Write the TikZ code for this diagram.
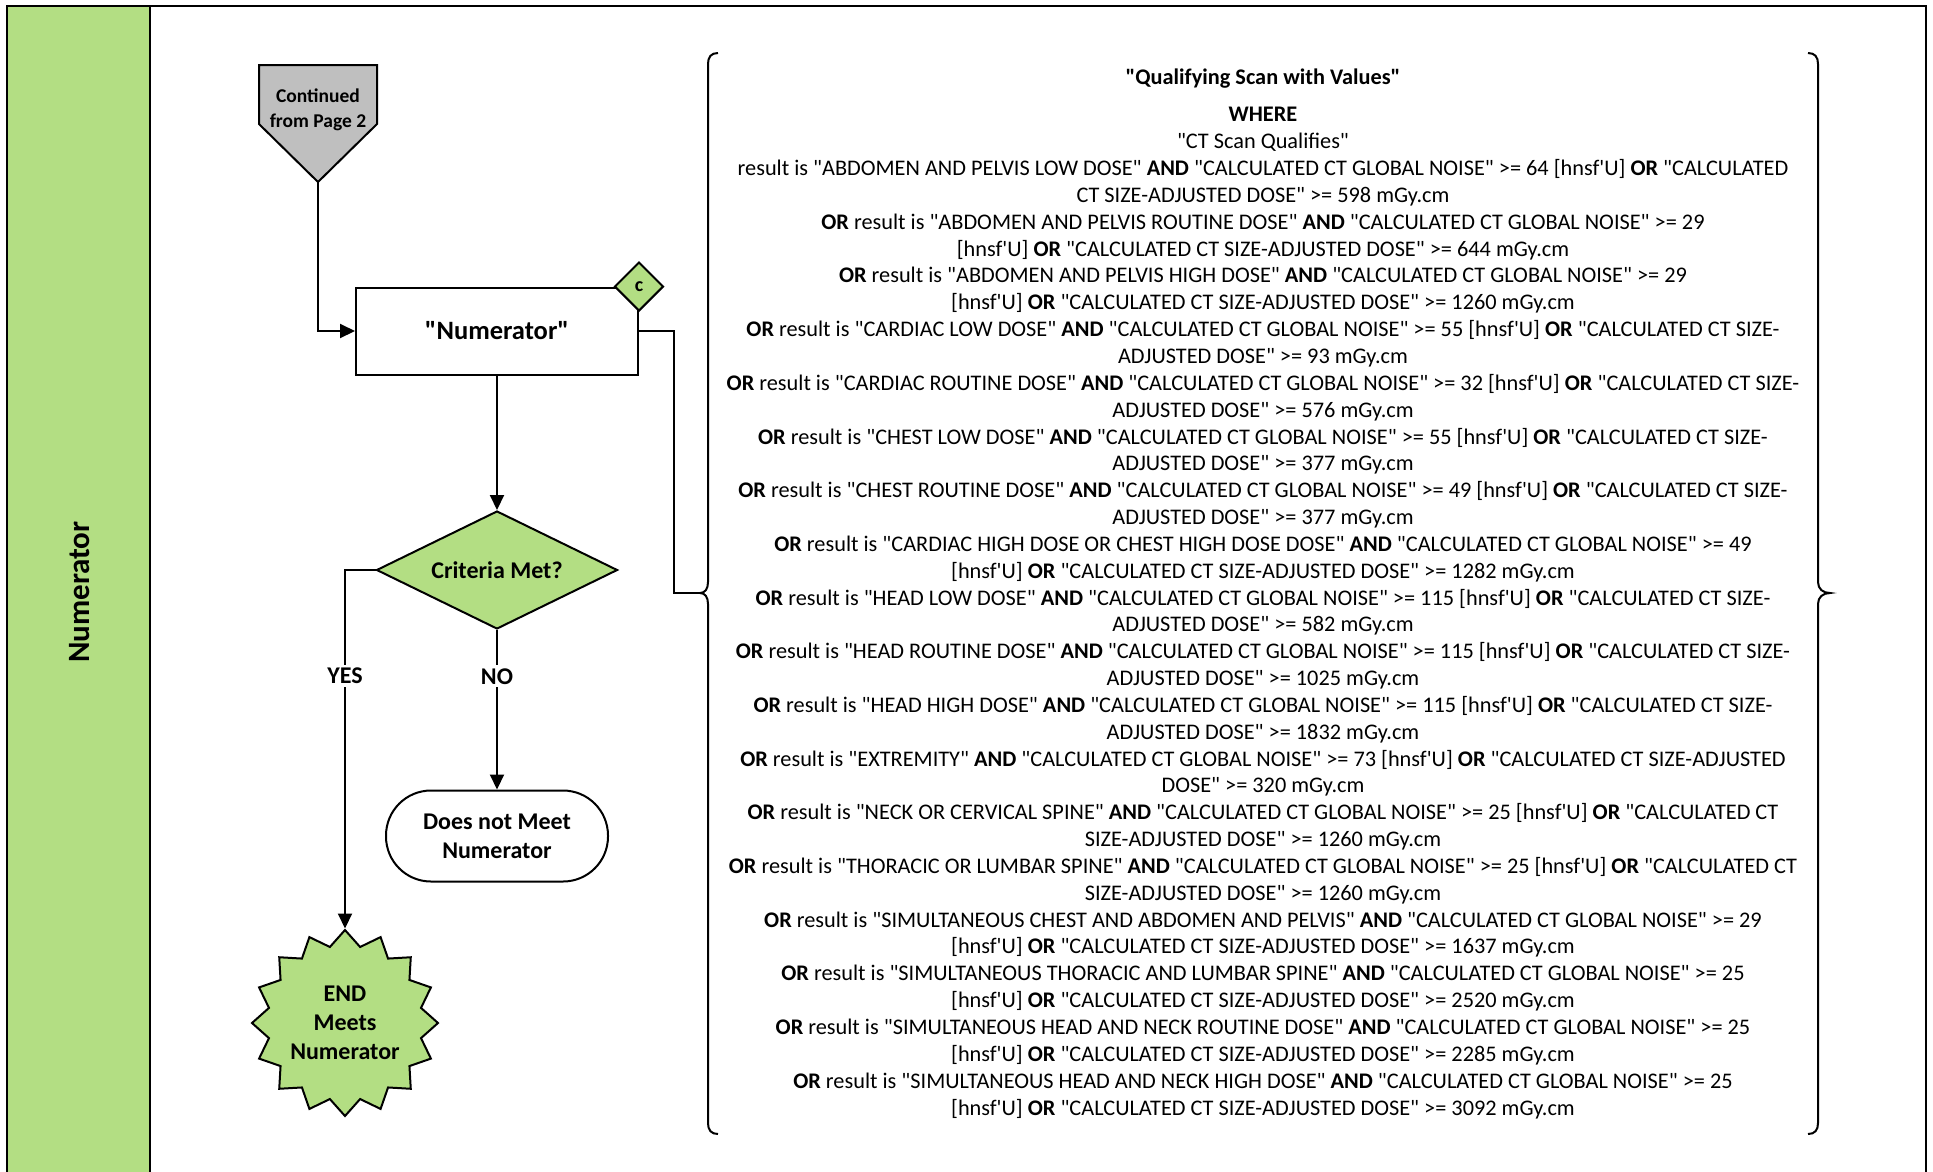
\documentclass[tikz,border=0pt]{standalone}
\usepackage{fontspec}
\setmainfont{Carlito}[Ligatures=TeXOff]
\usetikzlibrary{arrows.meta,shapes.geometric,positioning}
\definecolor{lanegreen}{RGB}{179,222,131}
\definecolor{pagegrey}{RGB}{191,191,191}
\newcommand{\kwor}{\textbf{OR}}
\newcommand{\kwand}{\textbf{AND}}
\newcommand{\hu}{[hnsf\textquotesingle U]}

\begin{document}
\begin{tikzpicture}[x=1pt, y=-1pt, line width=2pt,
	every node/.style={font=\bfseries\fontsize{24}{29}\selectfont, align=center},
	proc/.style={draw, fill=white, minimum width=282pt, minimum height=87pt, inner sep=0pt},
	dec/.style={diamond, aspect=2, draw, fill=lanegreen, minimum width=241pt, minimum height=118pt, inner sep=0pt},
	tag/.style={diamond, draw, fill=lanegreen, minimum size=49pt, inner sep=0pt, font=\bfseries\fontsize{20}{24}\selectfont},
	term/.style={draw, fill=white, rounded corners=45pt, minimum width=222pt, minimum height=91pt, inner sep=0pt},
	endstar/.style={star, star points=16, star point ratio=1.2, draw, fill=lanegreen, minimum size=186pt, inner sep=0pt},
	lbl/.style={fill=white, inner sep=3pt},
	arr/.style={-{Triangle[length=15pt,width=14pt]}}]
	\useasboundingbox (0,0) rectangle (1933,1171);
	% swimlane
	\draw[fill=lanegreen] (7,6) rectangle (150,1180);
	\draw[line width=2.5pt] (7,1180) -- (7,6) -- (1926,6) -- (1926,1180);
	\node[rotate=90, font=\bfseries\fontsize{31}{37}\selectfont] (lane) at (80,592) {Numerator};
	% off-page connector
	\draw[fill=pagegrey] (259,65) -- (377,65) -- (377,124) -- (318,182) -- (259,124) -- cycle;
	\node[font=\bfseries\fontsize{19.5}{25}\selectfont] (cont) at (318,110) {Continued\\from Page 2};
	\coordinate (conttip) at (318,182);
	% flow
	\node[proc, font=\bfseries\fontsize{26.5}{32}\selectfont] (num) at (497,331) {"Numerator"};
	\node[tag] (c) at (num.north east) {c};
	\node[dec] (crit) at (497,570) {Criteria Met?};
	\node[term] (nomeet) at (497,836) {Does not Meet\\Numerator};
	\node[endstar] (end) at (345,1023) {END\\Meets\\Numerator};
	\draw[arr] (conttip) |- (num.west);
	\draw[arr] (num.south) -- (crit.north);
	\draw[arr] (crit.west) -| node[lbl, pos=0.648] {YES} (end.north);
	\draw[arr] (crit.south) -- node[lbl, pos=0.29] {NO} (nomeet.north);
	% brace with the criteria
	\coordinate (bracetip) at (700,593);
	\draw (num.east) -- ++(35,0) |- (bracetip);
	\draw (718,53) .. controls (711,53) and (708,57) .. (708,64) -- (708,582) .. controls (708,589) and (705,593) .. (bracetip) .. controls (705,593) and (708,597) .. (708,604) -- (708,1123) .. controls (708,1130) and (711,1134) .. (718,1134);
	\draw (1808,53) .. controls (1815,53) and (1818,57) .. (1818,64) -- (1818,582) .. controls (1818,589) and (1823,593) .. (1830,593) .. controls (1823,593) and (1818,597) .. (1818,604) -- (1818,1123) .. controls (1818,1130) and (1815,1134) .. (1808,1134);
	\node[font=\fontsize{22.3}{26.84}\selectfont] (crittext) at (1263,593.5) {%
		\textbf{"Qualifying Scan with Values"}\\[11pt]
		\textbf{WHERE}\\
		"CT Scan Qualifies"\\
		result is "ABDOMEN AND PELVIS LOW DOSE" \kwand{} "CALCULATED CT GLOBAL NOISE" >= 64 \hu{} \kwor{} "CALCULATED\\
		CT SIZE-ADJUSTED DOSE" >= 598 mGy.cm\\
		\kwor{} result is "ABDOMEN AND PELVIS ROUTINE DOSE" \kwand{} "CALCULATED CT GLOBAL NOISE" >= 29\\
		\hu{} \kwor{} "CALCULATED CT SIZE-ADJUSTED DOSE" >= 644 mGy.cm\\
		\kwor{} result is "ABDOMEN AND PELVIS HIGH DOSE" \kwand{} "CALCULATED CT GLOBAL NOISE" >= 29\\
		\hu{} \kwor{} "CALCULATED CT SIZE-ADJUSTED DOSE" >= 1260 mGy.cm\\
		\kwor{} result is "CARDIAC LOW DOSE" \kwand{} "CALCULATED CT GLOBAL NOISE" >= 55 \hu{} \kwor{} "CALCULATED CT SIZE-\\
		ADJUSTED DOSE" >= 93 mGy.cm\\
		\kwor{} result is "CARDIAC ROUTINE DOSE" \kwand{} "CALCULATED CT GLOBAL NOISE" >= 32 \hu{} \kwor{} "CALCULATED CT SIZE-\\
		ADJUSTED DOSE" >= 576 mGy.cm\\
		\kwor{} result is "CHEST LOW DOSE" \kwand{} "CALCULATED CT GLOBAL NOISE" >= 55 \hu{} \kwor{} "CALCULATED CT SIZE-\\
		ADJUSTED DOSE" >= 377 mGy.cm\\
		\kwor{} result is "CHEST ROUTINE DOSE" \kwand{} "CALCULATED CT GLOBAL NOISE" >= 49 \hu{} \kwor{} "CALCULATED CT SIZE-\\
		ADJUSTED DOSE" >= 377 mGy.cm\\
		\kwor{} result is "CARDIAC HIGH DOSE OR CHEST HIGH DOSE DOSE" \kwand{} "CALCULATED CT GLOBAL NOISE" >= 49\\
		\hu{} \kwor{} "CALCULATED CT SIZE-ADJUSTED DOSE" >= 1282 mGy.cm\\
		\kwor{} result is "HEAD LOW DOSE" \kwand{} "CALCULATED CT GLOBAL NOISE" >= 115 \hu{} \kwor{} "CALCULATED CT SIZE-\\
		ADJUSTED DOSE" >= 582 mGy.cm\\
		\kwor{} result is "HEAD ROUTINE DOSE" \kwand{} "CALCULATED CT GLOBAL NOISE" >= 115 \hu{} \kwor{} "CALCULATED CT SIZE-\\
		ADJUSTED DOSE" >= 1025 mGy.cm\\
		\kwor{} result is "HEAD HIGH DOSE" \kwand{} "CALCULATED CT GLOBAL NOISE" >= 115 \hu{} \kwor{} "CALCULATED CT SIZE-\\
		ADJUSTED DOSE" >= 1832 mGy.cm\\
		\kwor{} result is "EXTREMITY" \kwand{} "CALCULATED CT GLOBAL NOISE" >= 73 \hu{} \kwor{} "CALCULATED CT SIZE-ADJUSTED\\
		DOSE" >= 320 mGy.cm\\
		\kwor{} result is "NECK OR CERVICAL SPINE" \kwand{} "CALCULATED CT GLOBAL NOISE" >= 25 \hu{} \kwor{} "CALCULATED CT\\
		SIZE-ADJUSTED DOSE" >= 1260 mGy.cm\\
		\kwor{} result is "THORACIC OR LUMBAR SPINE" \kwand{} "CALCULATED CT GLOBAL NOISE" >= 25 \hu{} \kwor{} "CALCULATED CT\\
		SIZE-ADJUSTED DOSE" >= 1260 mGy.cm\\
		\kwor{} result is "SIMULTANEOUS CHEST AND ABDOMEN AND PELVIS" \kwand{} "CALCULATED CT GLOBAL NOISE" >= 29\\
		\hu{} \kwor{} "CALCULATED CT SIZE-ADJUSTED DOSE" >= 1637 mGy.cm\\
		\kwor{} result is "SIMULTANEOUS THORACIC AND LUMBAR SPINE" \kwand{} "CALCULATED CT GLOBAL NOISE" >= 25\\
		\hu{} \kwor{} "CALCULATED CT SIZE-ADJUSTED DOSE" >= 2520 mGy.cm\\
		\kwor{} result is "SIMULTANEOUS HEAD AND NECK ROUTINE DOSE" \kwand{} "CALCULATED CT GLOBAL NOISE" >= 25\\
		\hu{} \kwor{} "CALCULATED CT SIZE-ADJUSTED DOSE" >= 2285 mGy.cm\\
		\kwor{} result is "SIMULTANEOUS HEAD AND NECK HIGH DOSE" \kwand{} "CALCULATED CT GLOBAL NOISE" >= 25\\
		\hu{} \kwor{} "CALCULATED CT SIZE-ADJUSTED DOSE" >= 3092 mGy.cm};
\end{tikzpicture}
\end{document}
